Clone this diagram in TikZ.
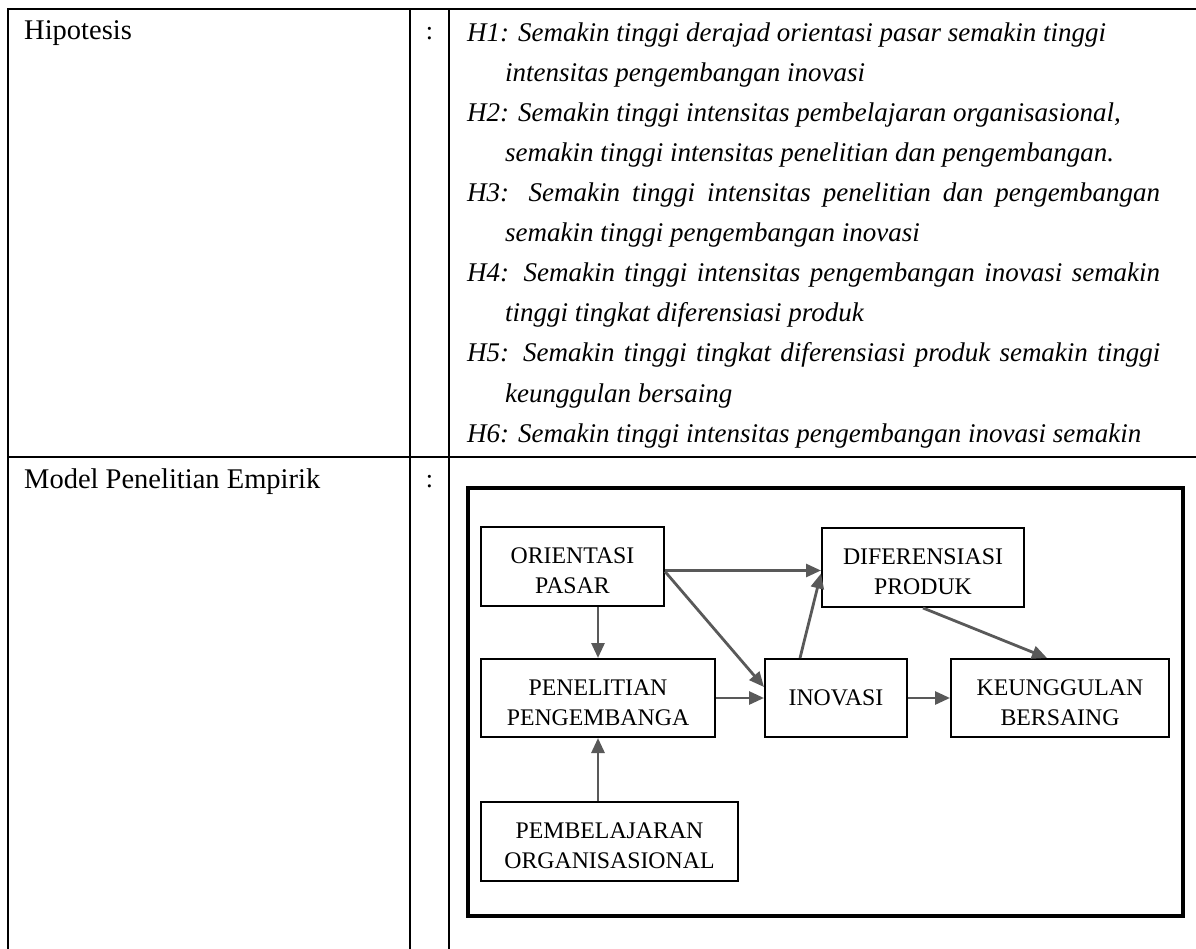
\documentclass[tikz,border=0pt]{standalone}
\usepackage{fontspec}
\setmainfont{Liberation Serif}
\usetikzlibrary{arrows.meta}
\definecolor{arrowgrey}{HTML}{595959}
% strut that lowers two-line labels a little inside their boxes
\newcommand{\lowerstrut}{\rule{0pt}{25pt}}
\begin{document}
\begin{tikzpicture}[x=1pt,y=-1pt,
  rule/.style={line width=2.7pt},
  frame/.style={line width=4pt},
  rowlabel/.style={anchor=base west, inner sep=0pt, font=\fontsize{28.5}{34}\selectfont},
  colon/.style={anchor=base, inner sep=0pt, font=\fontsize{26}{30}\selectfont},
  hyp/.style={anchor=base west, inner sep=0pt, font=\itshape\fontsize{27}{32}\selectfont},
  var/.style={draw, line width=2pt, inner sep=0pt, align=center,
    font=\fontsize{23.8}{30}\selectfont},
  link/.style={draw=arrowgrey, line width=2.8pt, -{Triangle[length=15pt,width=13pt]}}]
\useasboundingbox (0,0) rectangle (1196,949);

% table rules
\draw[rule] (1196,9) -- (8,9) -- (8,949);
\draw[rule] (410,9) -- (410,949);
\draw[rule] (449,9) -- (449,949);
\draw[rule] (8,457) -- (1196,457);

% row labels and separators
\node[rowlabel] (hiplabel) at (24,40) {Hipotesis};
\node[colon] (colon1) at (429.5,40) {:};
\node[rowlabel] (modlabel) at (24,488) {Model Penelitian Empirik};
\node[colon] (colon2) at (429.5,487) {:};

% hypotheses
\node[hyp] (h1a) at (467,42) {H1: Semakin tinggi derajad orientasi pasar semakin tinggi};
\node[hyp] (h1b) at (505,82) {intensitas pengembangan inovasi};
\node[hyp] (h2a) at (467,122) {H2: Semakin tinggi intensitas pembelajaran organisasional,};
\node[hyp] (h2b) at (505,162) {semakin tinggi intensitas penelitian dan pengembangan.};
\node[hyp] (h3a) at (467,202) {\makebox[693pt][s]{H3: Semakin tinggi intensitas penelitian dan pengembangan}};
\node[hyp] (h3b) at (505,242) {semakin tinggi pengembangan inovasi};
\node[hyp] (h4a) at (467,282) {\makebox[693pt][s]{H4: Semakin tinggi intensitas pengembangan inovasi semakin}};
\node[hyp] (h4b) at (505,322) {tinggi tingkat diferensiasi produk};
\node[hyp] (h5a) at (467,362) {\makebox[693pt][s]{H5: Semakin tinggi tingkat diferensiasi produk semakin tinggi}};
\node[hyp] (h5b) at (505,402) {keunggulan bersaing};
\node[hyp] (h6) at (467,442) {H6: Semakin tinggi intensitas pengembangan inovasi semakin};

% model frame
\draw[frame] (468,488) rectangle (1183,916);

% variables
\node[var, minimum width=183pt, minimum height=79pt] (op) at (572.5,566.5) {\lowerstrut ORIENTASI\\PASAR};
\node[var, minimum width=234pt, minimum height=78pt] (pp) at (598,698) {\lowerstrut PENELITIAN\\PENGEMBANGA};
\node[var, minimum width=142pt, minimum height=78pt] (in) at (836,698) {INOVASI};
\node[var, minimum width=202pt, minimum height=79pt] (dp) at (923,567.5) {\lowerstrut DIFERENSIASI\\PRODUK};
\node[var, minimum width=218pt, minimum height=78pt] (kb) at (1060,698) {\lowerstrut KEUNGGULAN\\BERSAING};
\node[var, minimum width=257pt, minimum height=79pt] (pb) at (609.5,841.5) {\lowerstrut PEMBELAJARAN\\ORGANISASIONAL};

% paths
\draw[link] ([yshift=-4pt]op.east) -- ([yshift=-3pt]dp.west);
\draw[link] ([yshift=-5pt]op.east) -- ([yshift=11pt]in.west);
\draw[link] (pp.north |- op.south) -- (pp.north);
\draw[link] (pp.east) -- (in.west);
\draw[link] ([xshift=-36pt]in.north) -- ([yshift=-6pt]dp.west);
\draw[link] (dp.south) -- ([xshift=-13pt]kb.north);
\draw[link] (in.east) -- (kb.west);
\draw[link] (pp.south |- pb.north) -- (pp.south);
\end{tikzpicture}
\end{document}
